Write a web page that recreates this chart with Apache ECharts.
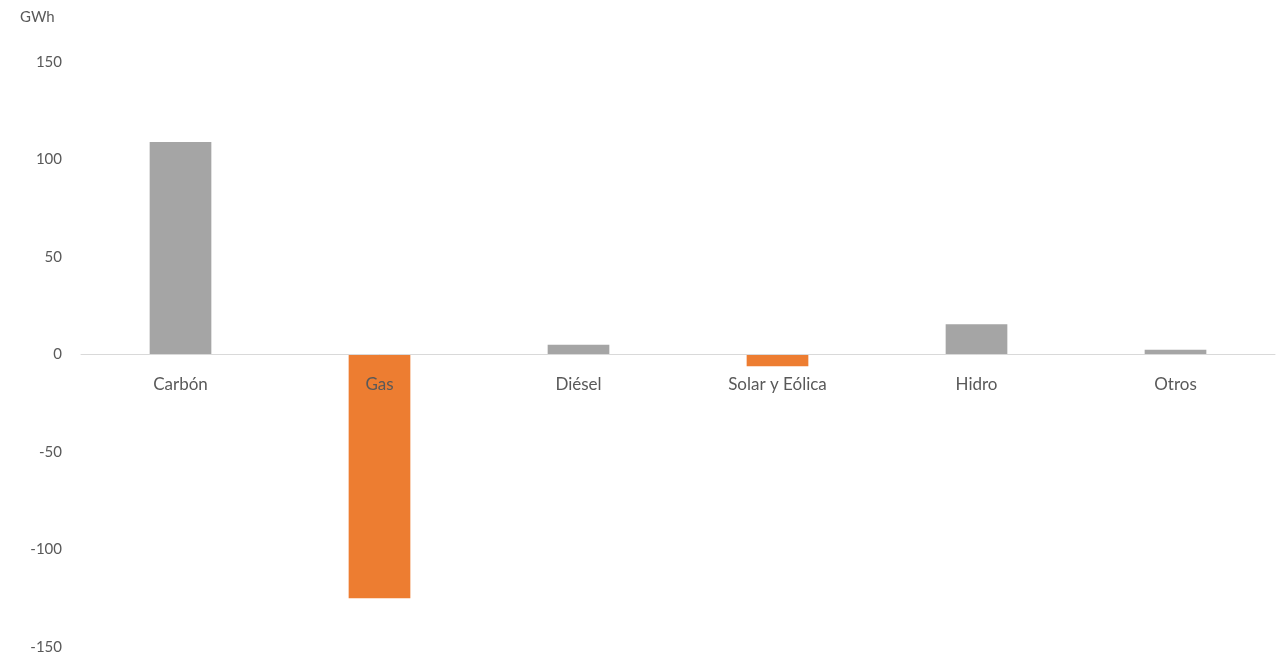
<!DOCTYPE html>
<html>
<head>
<meta charset="utf-8">
<script src="https://cdn.jsdelivr.net/npm/echarts@6/dist/echarts.min.js"></script>
<style>html,body{margin:0;padding:0;background:#fff}#c{width:1281px;height:656px}</style>
</head>
<body>
<div id="c"></div>
<script>
const categories = ['Carbón', 'Gas', 'Diésel', 'Solar y Eólica', 'Hidro', 'Otros'];
const values = [109, -125, 5, -6, 15.5, 2.5];
const barColors = ['#a5a5a5', '#ed7d31', '#a5a5a5', '#ed7d31', '#a5a5a5', '#a5a5a5'];
const yTicks = [-150, -100, -50, 0, 50, 100, 150];

const chart = echarts.init(document.getElementById('c'));
chart.setOption({
  animation: false,
  textStyle: { fontFamily: 'Lato' },
  grid: { left: 81, right: 6, top: 62, bottom: 9, containLabel: false, outerBoundsMode: 'none' },
  graphic: [{ type: 'text', left: 20, top: 10, style: { text: 'GWh', fontSize: 15, fill: '#595959', fontFamily: 'Lato' } }],
  xAxis: {
    type: 'category',
    data: categories,
    z: 5,
    axisLine: { onZero: false, lineStyle: { color: '#d9d9d9', width: 1 } },
    axisTick: { show: false },
    axisLabel: { color: '#595959', fontSize: 17, margin: 22, fontFamily: 'Lato' }
  },
  yAxis: {
    type: 'value',
    min: yTicks[0],
    max: yTicks[yTicks.length - 1],
    interval: 50,
    splitLine: { show: false },
    axisLine: { show: false },
    axisTick: { show: false },
    axisLabel: { color: '#595959', fontSize: 15, margin: 19, fontFamily: 'Lato' }
  },
  series: [{
    type: 'bar',
    barWidth: '31%',
    z: 2,
    data: values.map((v, i) => ({ value: v, itemStyle: { color: barColors[i] } }))
  }]
});
// move the category axis (line + labels) to the value-axis zero
const zeroY = chart.convertToPixel({ yAxisIndex: 0 }, 0);
const bottomY = chart.convertToPixel({ yAxisIndex: 0 }, yTicks[0]);
chart.setOption({ xAxis: { offset: -(bottomY - zeroY) } });
</script>
</body>
</html>
